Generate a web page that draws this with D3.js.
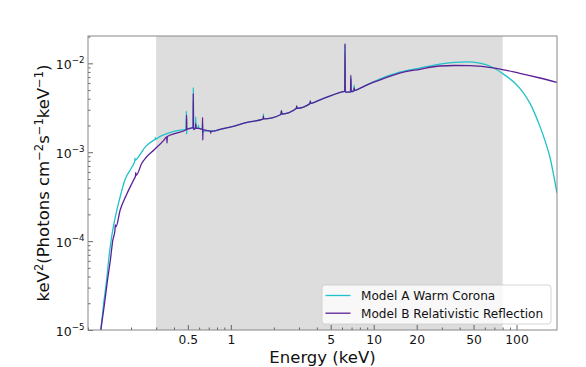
<!DOCTYPE html>
<html><head><meta charset="utf-8">
<script src="https://cdn.jsdelivr.net/npm/d3@7"></script>
<style>body{margin:0;background:#fff;} svg{display:block;font-family:"DejaVu Sans",sans-serif;}</style>
</head><body><svg id="chart" width="586" height="367"></svg>
<script>
// ---- data ----
const seriesNames = ["Model A Warm Corona", "Model B Relativistic Reflection"];
const seriesColors = ["#1fc2c8", "#5b1f97"];

const energyA = [0.1228,0.1291,0.1355,0.1400,0.1453,0.1518,0.1593,0.1699,0.1812,0.2030,0.2124,0.2134,0.2144,0.2273,0.2544,0.2895,0.2950,0.2960,0.2970,0.3139,0.3645,0.455,0.486,0.488,0.490,0.492,0.526,0.544,0.546,0.548,0.566,0.568,0.570,0.590,0.593,0.596,0.632,0.634,0.636,0.682,0.763,0.855,0.973,1.344,1.66,1.685,1.69,1.695,2.24,2.26,2.28,2.87,2.89,2.91,3.58,3.60,3.62,4.17,5.14,6.07,6.27,6.30,6.33,6.88,6.92,6.96,7.26,7.30,7.34,7.54,8.62,10.98,15.2,21.0,29.0,36.9,44.8,55.3,65.0,78.9,97.3,110.7,124,146,158,171,191.9];
const fluxA = [1.00e-5,2.06e-5,3.84e-5,6.45e-5,1.03e-4,1.56e-4,2.24e-4,3.39e-4,4.87e-4,6.82e-4,7.9e-4,8.6e-4,8.1e-4,9.06e-4,1.17e-3,1.37e-3,1.39e-3,1.47e-3,1.40e-3,1.48e-3,1.64e-3,1.78e-3,1.80e-3,2.90e-3,1.60e-3,1.82e-3,1.87e-3,1.88e-3,5.37e-3,1.86e-3,1.88e-3,2.50e-3,1.87e-3,1.90e-3,2.0e-3,1.86e-3,1.82e-3,2.1e-3,1.70e-3,1.75e-3,1.74e-3,1.82e-3,1.90e-3,2.19e-3,2.34e-3,2.36e-3,2.69e-3,2.37e-3,2.66e-3,2.90e-3,2.69e-3,3.10e-3,3.28e-3,3.12e-3,3.52e-3,3.72e-3,3.54e-3,3.86e-3,4.40e-3,4.78e-3,4.82e-3,1.60e-2,4.75e-3,4.75e-3,6.8e-3,4.80e-3,4.90e-3,5.7e-3,4.95e-3,5.01e-3,5.55e-3,6.65e-3,7.98e-3,8.85e-3,9.82e-3,1.026e-2,1.04e-2,1.008e-2,9.33e-3,7.78e-3,6.00e-3,4.75e-3,3.57e-3,1.94e-3,1.36e-3,8.89e-4,3.47e-4];

const energyB = [0.1230,0.1301,0.1370,0.1434,0.1493,0.1542,0.1555,0.1570,0.1680,0.1842,0.2086,0.2150,0.2160,0.2172,0.2385,0.2532,0.2895,0.3403,0.3560,0.3575,0.3590,0.411,0.483,0.488,0.490,0.492,0.526,0.544,0.546,0.548,0.566,0.568,0.570,0.600,0.632,0.634,0.636,0.638,0.682,0.722,0.724,0.726,0.763,0.855,0.973,1.344,1.66,1.685,1.69,1.695,2.24,2.26,2.28,2.87,2.89,2.91,3.58,3.60,3.62,4.17,5.14,6.07,6.27,6.30,6.33,6.88,6.92,6.96,7.26,7.30,7.34,7.54,8.62,10.98,15.2,21.0,29.0,36.9,47.0,70.4,105.5,146,191.9];
const fluxB = [1.00e-5,1.91e-5,3.65e-5,6.12e-5,1.03e-4,1.30e-4,1.52e-4,1.45e-4,2.24e-4,3.22e-4,4.87e-4,5.4e-4,5.9e-4,5.5e-4,7.57e-4,8.61e-4,1.06e-3,1.37e-3,1.49e-3,1.27e-3,1.50e-3,1.63e-3,1.78e-3,1.80e-3,2.62e-3,1.82e-3,1.87e-3,1.88e-3,4.60e-3,1.80e-3,1.88e-3,2.1e-3,1.87e-3,1.85e-3,1.82e-3,2.47e-3,1.37e-3,1.80e-3,1.75e-3,1.72e-3,1.63e-3,1.72e-3,1.73e-3,1.82e-3,1.90e-3,2.19e-3,2.34e-3,2.36e-3,2.55e-3,2.37e-3,2.66e-3,2.93e-3,2.69e-3,3.10e-3,3.31e-3,3.12e-3,3.52e-3,3.77e-3,3.54e-3,3.86e-3,4.40e-3,4.80e-3,4.85e-3,1.68e-2,4.75e-3,4.75e-3,7.38e-3,4.80e-3,4.90e-3,5.3e-3,4.95e-3,5.01e-3,5.55e-3,6.48e-3,7.78e-3,8.57e-3,9.33e-3,9.45e-3,9.40e-3,8.85e-3,7.72e-3,6.84e-3,6.11e-3];

const bandRange = [0.3, 80];
const xDomain = [0.1, 192];
const yDomain = [1e-5, 0.0203];
const xMajorTicks = [0.5, 1, 5, 10, 20, 50, 100];
const xTickLabels = ["0.5", "1", "5", "10", "20", "50", "100"];
const yMajorTicks = [1e-5, 1e-4, 1e-3, 1e-2];
const yTickExponents = ["\u22125", "\u22124", "\u22123", "\u22122"];
const xLabel = "Energy (keV)";

// ---- layout ----
const W = 586, H = 367;
const m = {left: 88, right: 29, top: 36, bottom: 37};
const iw = W - m.left - m.right, ih = H - m.top - m.bottom;

const svg = d3.select("#chart");
const g = svg.append("g").attr("transform", `translate(${m.left},${m.top})`);

const x = d3.scaleLog().domain(xDomain).range([0, iw]);
const y = d3.scaleLog().domain(yDomain).range([ih, 0]);

svg.append("defs").append("clipPath").attr("id", "clip")
  .append("rect").attr("width", iw).attr("height", ih);

// shaded band
g.append("rect")
  .attr("x", x(bandRange[0])).attr("y", 0)
  .attr("width", x(bandRange[1]) - x(bandRange[0])).attr("height", ih)
  .attr("fill", "#dddddd");

// lines
const line = d3.line().x(d => x(d[0])).y(d => y(d[1])).curve(d3.curveMonotoneX);
const series = [d3.zip(energyA, fluxA), d3.zip(energyB, fluxB)];
const lg = g.append("g").attr("clip-path", "url(#clip)");
series.forEach((s, i) => {
  lg.append("path").datum(s).attr("d", line)
    .attr("fill", "none").attr("stroke", seriesColors[i])
    .attr("stroke-width", 1.3).attr("stroke-linejoin", "round");
});

// axes
const axisColor = "#555";
const xMinor = x.ticks().filter(v => !xMajorTicks.some(t => Math.abs(t - v) / t < 1e-6));
const yMinor = y.ticks().filter(v => !yMajorTicks.some(t => Math.abs(t - v) / t < 1e-6));

const xa = g.append("g").attr("transform", `translate(0,${ih})`)
  .call(d3.axisBottom(x).tickValues(xMajorTicks).tickSize(-5).tickPadding(5)
    .tickFormat((d, i) => xTickLabels[i]));
const xm = g.append("g").attr("transform", `translate(0,${ih})`)
  .call(d3.axisBottom(x).tickValues(xMinor).tickSize(-2.5).tickFormat(""));
const ya = g.append("g")
  .call(d3.axisLeft(y).tickValues(yMajorTicks).tickSize(-5).tickFormat(""));
const ym = g.append("g")
  .call(d3.axisLeft(y).tickValues(yMinor).tickSize(-2.5).tickFormat(""));

[xa, xm, ya, ym].forEach(a => {
  a.select(".domain").remove();
  a.selectAll("line").attr("stroke", axisColor).attr("stroke-width", 0.9);
});
xa.selectAll("text").attr("font-size", 12.3).attr("fill", "#111")
  .attr("font-family", "DejaVu Sans");

// y tick labels with superscripts
yMajorTicks.forEach((v, i) => {
  const t = g.append("text").attr("x", -3.5).attr("y", y(v) + 5.8)
    .attr("text-anchor", "end").attr("fill", "#111").attr("font-size", 12.5);
  t.append("tspan").text("10");
  t.append("tspan").attr("font-size", 8.7).attr("dy", -5.8).text(yTickExponents[i]);
});

// frame
g.append("rect").attr("width", iw).attr("height", ih)
  .attr("fill", "none").attr("stroke", "#888").attr("stroke-width", 1);

// x label
g.append("text").attr("x", iw / 2).attr("y", ih + 32.5)
  .attr("text-anchor", "middle").attr("font-size", 16.5).attr("fill", "#111")
  .text(xLabel);

// y label
const yl = svg.append("text")
  .attr("transform", `translate(49,${m.top + ih / 2}) rotate(-90)`)
  .attr("text-anchor", "middle").attr("font-size", 16.5).attr("fill", "#111");
const ylParts = [["keV", false], ["2", true], ["(Photons cm", false], ["\u22122", true],
  ["s", false], ["\u22121", true], ["keV", false], ["\u22121", true], [")", false]];
let up = false;
ylParts.forEach(([txt, sup]) => {
  const ts = yl.append("tspan").text(txt);
  if (sup) { ts.attr("font-size", 11.5); if (!up) { ts.attr("dy", -6.5); up = true; } }
  else if (up) { ts.attr("dy", 6.5); up = false; }
});

// legend
const lgX = 322 - m.left, lgY = 285 - m.top;
const legend = g.append("g").attr("transform", `translate(${lgX},${lgY})`);
legend.append("rect").attr("width", 229).attr("height", 39).attr("rx", 3)
  .attr("fill", "rgba(255,255,255,0.8)").attr("stroke", "#cccccc").attr("stroke-width", 0.8);
seriesNames.forEach((name, i) => {
  const yy = 10.5 + i * 17.7;
  legend.append("line").attr("x1", 3.5).attr("x2", 28.5).attr("y1", yy).attr("y2", yy)
    .attr("stroke", seriesColors[i]).attr("stroke-width", 1.3);
  legend.append("text").attr("x", 39).attr("y", yy + 4.3)
    .attr("font-size", 12.1).attr("fill", "#111").text(name);
});
</script></body></html>
